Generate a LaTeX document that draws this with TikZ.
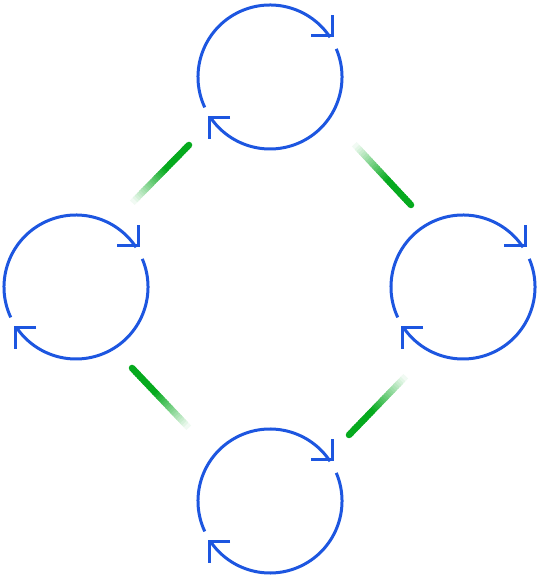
\documentclass[tikz,border=0pt]{standalone}
\usepackage{tikz}
\usetikzlibrary{calc, positioning}
\definecolor{ringblue}{RGB}{29,86,224}
\definecolor{glowgreen}{RGB}{6,170,30}
\tikzstyle{hub} = [coordinate]
\tikzstyle{ring} = [draw, ringblue, line width = 3pt]
\tikzstyle{barb} = [draw, ringblue, line width = 3pt, line join = miter]
\tikzstyle{glow} = [draw, line width = 6.5pt]

% faded green link, solid at #1, gone at #2
\newcommand{\glowlink}[2]{%
	\fill [glowgreen] (#1) circle (3.25pt);
	\foreach \i in {0,...,29} {
		\pgfmathsetmacro{\p}{min(100, 100*(1-\i/30)/0.6)}
		\path [glow, glowgreen!\p!white] ($(#1)!\i/30!(#2)$) -- ($(#1)!{(\i+1.4)/30}!(#2)$);
	}
}

\begin{document}
\begin{tikzpicture}[x=1pt, y=1pt]
			\useasboundingbox (0,0) rectangle (540,580);
			\node [hub] (top) at (270, 503) {};
			\node [hub] (left) at (76, 293) {};
			\node [hub] (right) at (463, 293) {};
			\node [hub] (bottom) at (270, 79) {};
			
			\foreach \c in {top, left, right, bottom} {
				\path [ring] ($(\c)+(205:72)$) arc [start angle=205, end angle=33.5, radius=72];
				\path [ring] ($(\c)+(23:72)$) arc [start angle=23, end angle=-146, radius=72];
				\path [barb] ($(\c)+(41,41)$) -- ++(21,0) -- ++(0,21);
				\path [barb] ($(\c)+(-40,-41)$) -- ++(-21,0) -- ++(0,-21);
			}
			
			\node [hub] (tl-a) at (189, 435) {};
			\node [hub] (tl-b) at (133, 378) {};
			\node [hub] (tr-a) at (411, 375) {};
			\node [hub] (tr-b) at (355, 435) {};
			\node [hub] (bl-a) at (132, 212) {};
			\node [hub] (bl-b) at (188, 153) {};
			\node [hub] (br-a) at (349, 145) {};
			\node [hub] (br-b) at (405, 203) {};
			
			\glowlink{tl-a}{tl-b}
			\glowlink{tr-a}{tr-b}
			\glowlink{bl-a}{bl-b}
			\glowlink{br-a}{br-b}
		\end{tikzpicture}
\end{document}
